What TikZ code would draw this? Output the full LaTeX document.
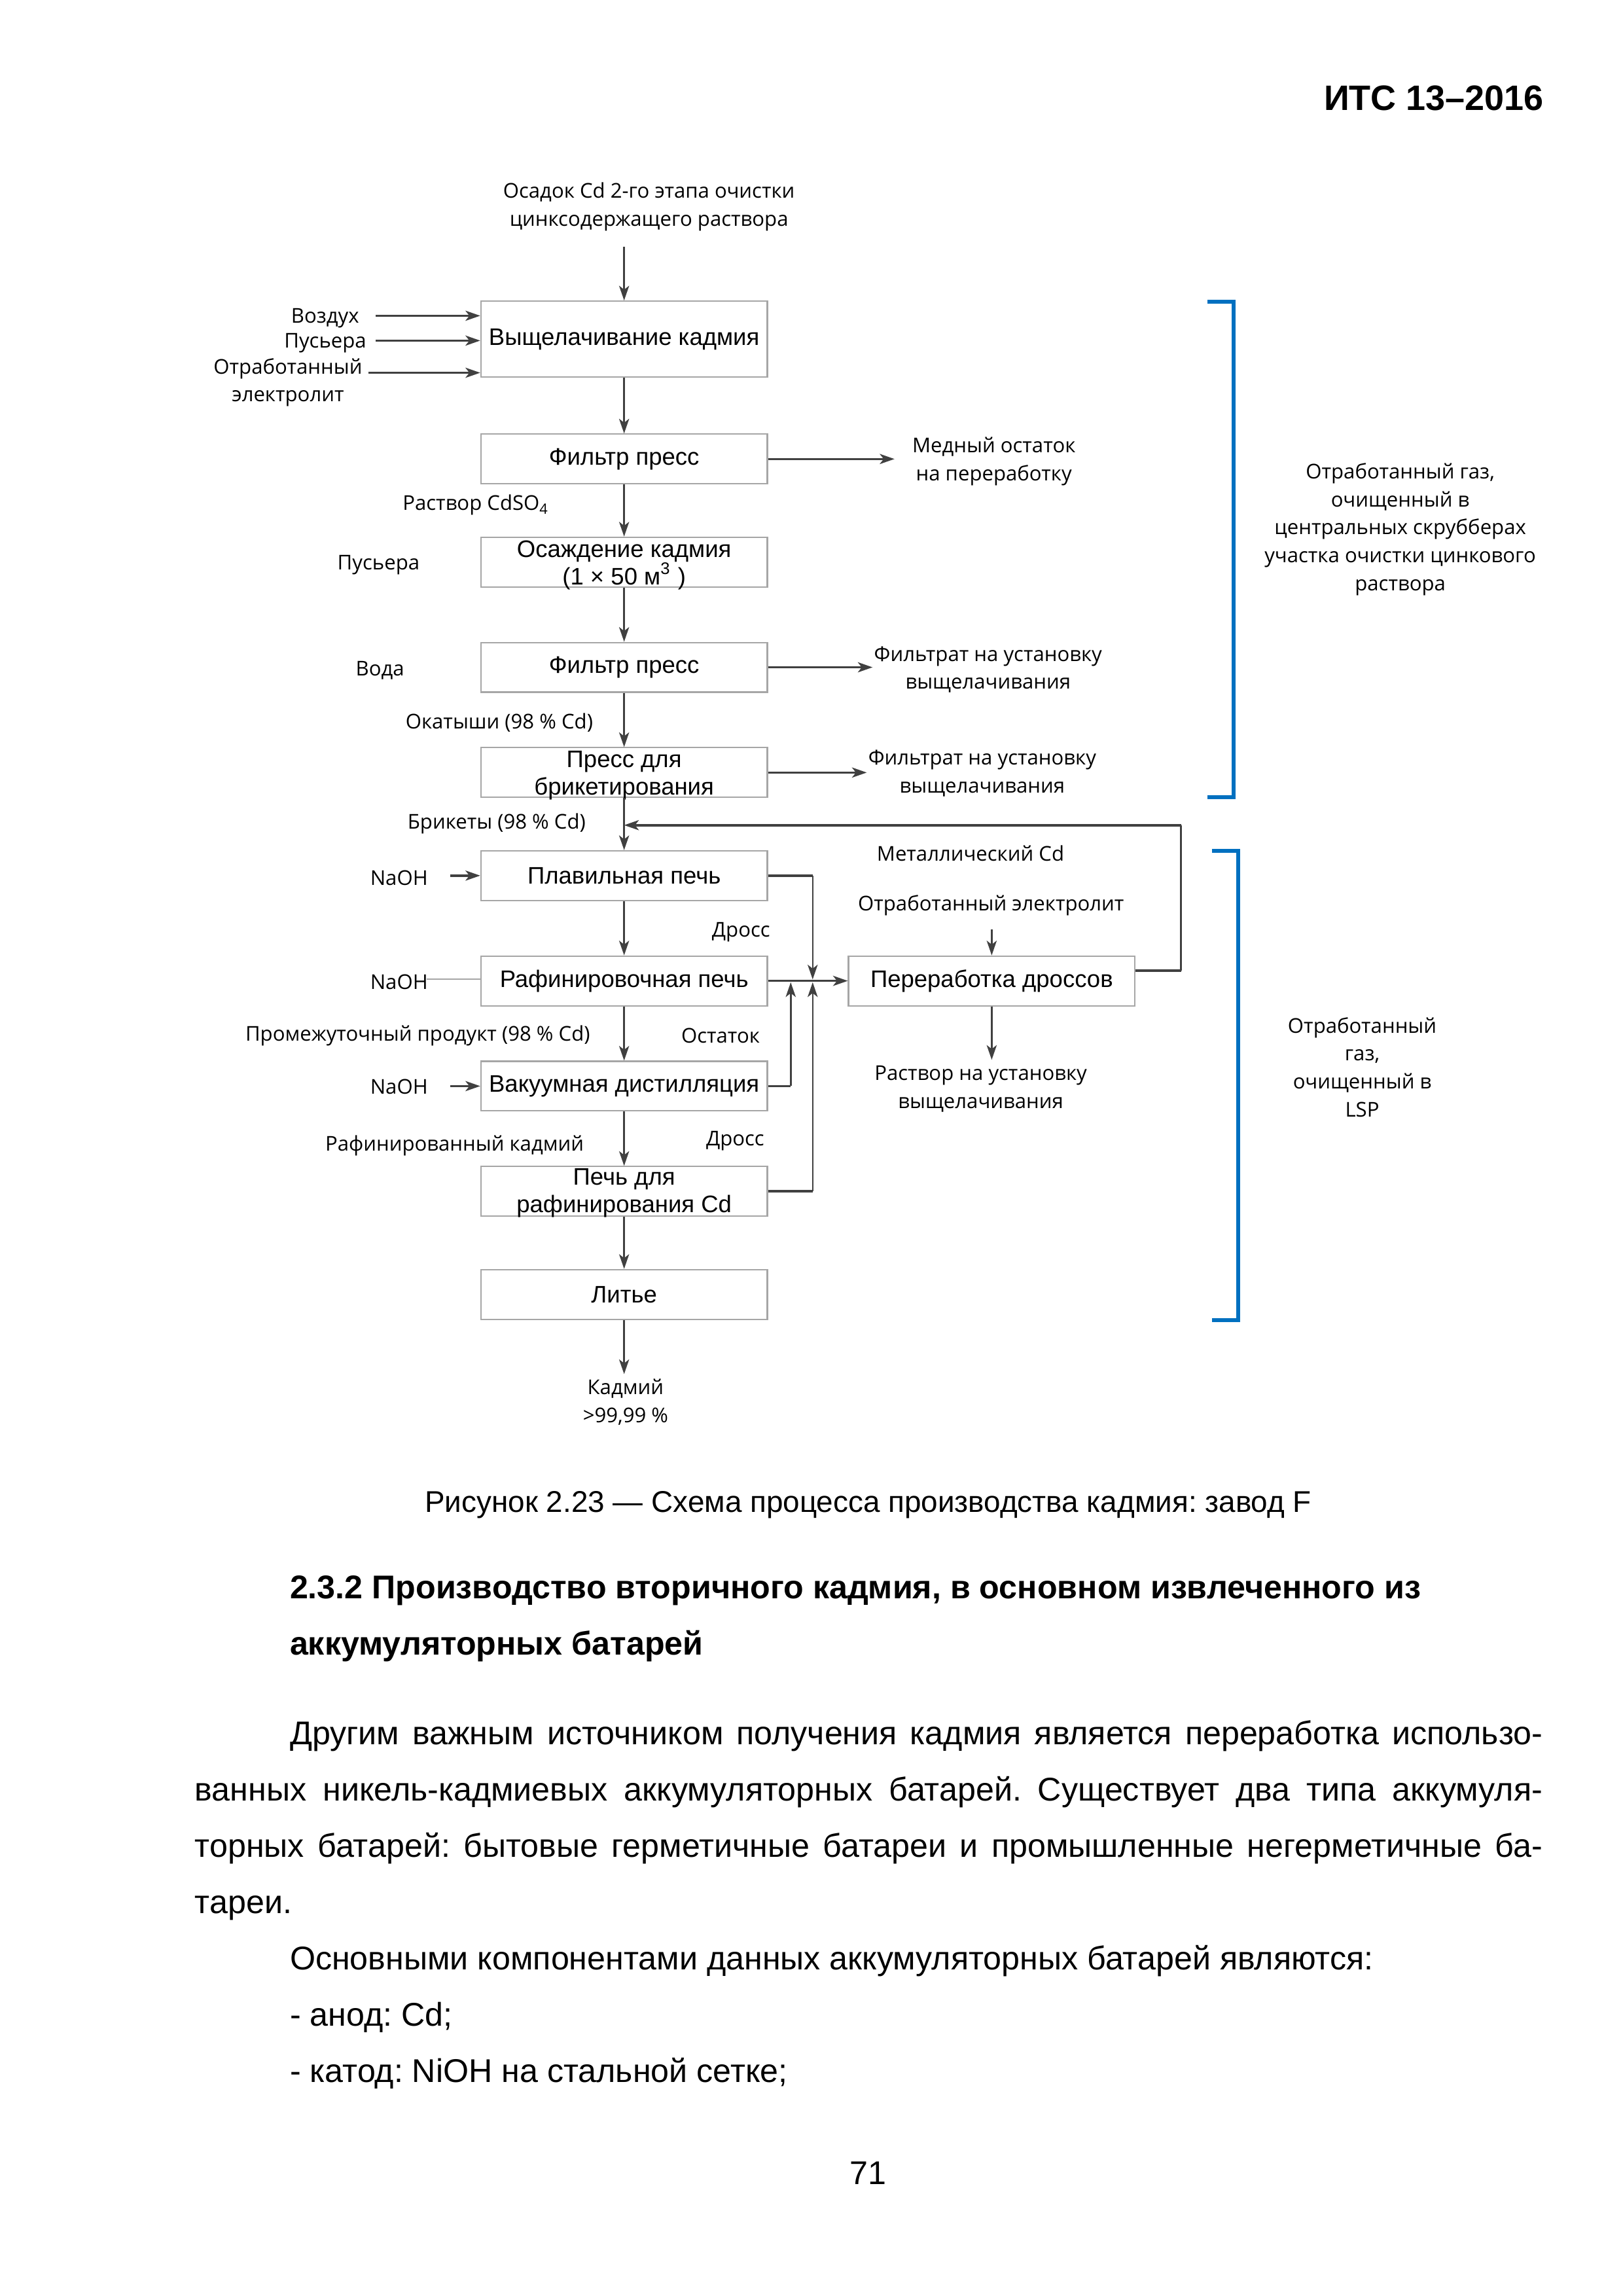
\documentclass[tikz,border=0pt]{standalone}
\usepackage{fontspec}
\setmainfont{Liberation Sans}
\newfontfamily\lbl{Open Sans}
\usetikzlibrary{arrows.meta}
\definecolor{ln}{HTML}{404040}
\definecolor{bxc}{HTML}{A6A6A6}
\definecolor{brc}{HTML}{0070C0}
\frenchspacing
\begin{document}
\begin{tikzpicture}[x=0.0189189cm,y=-0.0189189cm,
  pbox/.style={draw=bxc,line width=0.5pt,minimum width=3.708cm,minimum height=0.643cm,inner sep=0pt,align=center,font=\fontsize{8.8}{10.2}\selectfont},
  ptxt/.style={inner sep=0pt,align=center,font=\fontsize{8.8}{10.2}\selectfont},
  plab/.style={inner sep=0pt,align=center,yshift=-0.03cm,font=\lbl\fontsize{7.5}{10.3}\selectfont},
  vl/.style={draw=ln,line width=0.6pt},
  hl/.style={draw=ln,line width=0.85pt},
  arr/.style={-{Stealth[length=1.9mm,width=1.3mm,inset=0.5mm]}},
  brk/.style={draw=brc,line width=1.4pt},
  ptext/.style={inner sep=0pt,anchor=base west,font=\fontsize{12.1}{13.9}\selectfont}]
\useasboundingbox (0,0) rectangle (1110,1570.7);

% header
\node[inner sep=0pt,anchor=base east,font=\bfseries\fontsize{13}{15}\selectfont] (hdr) at (1056.5,75.4) {ИТС 13–2016};

% boxes
\node[pbox,minimum height=0.984cm] (b1) at (427,232) {Выщелачивание кадмия};
\node[pbox] (b2) at (427,314) {Фильтр пресс};
\node[pbox] (b3) at (427,384.5) {};
\node[ptxt] (t3) at (427,386.5) {Осаждение кадмия\\(1 × 50 м\textsuperscript{3} )};
\node[pbox] (b4) at (427,456.5) {Фильтр пресс};
\node[pbox] (b5) at (427,528.5) {};
\node[ptxt] (t5) at (427,530.5) {Пресс для\\брикетирования};
\node[pbox] (b6) at (427,599) {Плавильная печь};
\node[pbox] (b7) at (427,671) {Рафинировочная печь};
\node[pbox] (b8) at (427,743) {Вакуумная дистилляция};
\node[pbox] (b9) at (427,815) {};
\node[ptxt] (t9) at (427,816) {Печь для\\рафинирования Cd};
\node[pbox] (b10) at (427,885.5) {Литье};
\node[pbox] (bd) at (678.5,671) {Переработка дроссов};

% labels
\node[plab] (l0) at (444,139.8) {Осадок Cd 2-го этапа очистки\\цинксодержащего раствора};
\node[plab,anchor=east] (lv) at (246,216) {Воздух};
\node[plab,anchor=east] (lp) at (251,233) {Пусьера};
\node[plab] (le) at (197,260) {Отработанный\\электролит};
\node[plab] (lm) at (680,314) {Медный остаток\\на переработку};
\node[plab,anchor=east] (lc) at (376,344) {Раствор CdSO\textsubscript{4}};
\node[plab] (lp2) at (259,385) {Пусьера};
\node[plab] (lw) at (260,457) {Вода};
\node[plab] (lf4) at (676,456.5) {Фильтрат на установку\\выщелачивания};
\node[plab,anchor=east] (lo) at (406,493) {Окатыши (98 \% Cd)};
\node[plab] (lf5) at (672,527.5) {Фильтрат на установку\\выщелачивания};
\node[plab,anchor=east] (lb) at (401,562) {Брикеты (98 \% Cd)};
\node[plab] (lmc) at (664,582) {Металлический Cd};
\node[plab] (ln1) at (273,599) {NaOH};
\node[plab] (ld1) at (507,636) {Дросс};
\node[plab] (lel) at (678,618) {Отработанный электролит};
\node[plab] (ln2) at (273,670) {NaOH};
\node[plab,anchor=east] (lpr) at (404,707) {Промежуточный продукт (98 \% Cd)};
\node[plab] (lost) at (493,707) {Остаток};
\node[plab] (lr) at (671,743.5) {Раствор на установку\\выщелачивания};
\node[plab] (ln3) at (273,742) {NaOH};
\node[plab] (lrk) at (311,782) {Рафинированный кадмий};
\node[plab] (ld2) at (503,779) {Дросс};
\node[plab] (lk) at (428,957.5) {Кадмий\\>99,99 \%};
\node[plab] (lg1) at (958,360.5) {Отработанный газ,\\очищенный в\\центральных скрубберах\\участка очистки цинкового\\раствора};
\node[plab] (lg2) at (932,728.5) {Отработанный\\газ,\\очищенный в\\LSP};

% main flow
\coordinate (c0) at (427,169);
\draw[vl,arr] (c0) -- (b1);
\draw[vl,arr] (b1) -- (b2);
\draw[vl,arr] (b2) -- (b3);
\draw[vl,arr] (b3) -- (b4);
\draw[vl,arr] (b4) -- (b5);
\draw[vl,arr] (b5) -- (b6);
\draw[vl,arr] (b6) -- (b7);
\draw[vl,arr] (b7) -- (b8);
\draw[vl,arr] (b8) -- (b9);
\draw[vl,arr] (b9) -- (b10);
\coordinate (e3) at (427,940);
\draw[vl,arr] (b10) -- (e3);

% inputs
\coordinate (i1) at (257,216);
\coordinate (i2) at (257,233);
\coordinate (i3) at (252,255);
\draw[hl,arr] (i1) -- (i1 -| b1.west);
\draw[hl,arr] (i2) -- (i2 -| b1.west);
\draw[hl,arr] (i3) -- (i3 -| b1.west);

% outputs
\coordinate (o2) at (612,314);
\coordinate (o4) at (597,456.5);
\coordinate (o5) at (593,528.5);
\draw[hl,arr] (b2) -- (o2);
\draw[hl,arr] (b4) -- (o4);
\draw[hl,arr] (b5) -- (o5);

% NaOH
\coordinate (n1) at (308,599);
\coordinate (n2) at (292,670);
\coordinate (n3) at (308,743);
\draw[hl,arr] (n1) -- (b6);
\draw[draw=bxc,line width=0.5pt] (n2) -- (n2 -| b7.west);
\draw[hl,arr] (n3) -- (b8);

% dross handling
\coordinate (m1) at (556,599);
\coordinate (m1e) at (556,670);
\draw[hl] (b6) -- (m1);
\draw[vl,arr] (m1) -- (m1e);
\draw[hl,arr] (b7) -- (bd);
\coordinate (m2) at (541,743);
\coordinate (m2e) at (541,672);
\draw[hl] (b8) -- (m2);
\draw[vl,arr] (m2) -- (m2e);
\coordinate (m3) at (556,815);
\coordinate (m3e) at (556,672);
\draw[hl] (b9) -- (m3);
\draw[vl,arr] (m3) -- (m3e);
\coordinate (e1) at (678.5,636);
\draw[vl,arr] (e1) -- (bd);
\coordinate (e2) at (678.5,725);
\draw[vl,arr] (bd) -- (e2);

% feedback
\coordinate (f1) at (808,664);
\coordinate (f2) at (808,564.5);
\draw[hl] (f1 -| bd.east) -- (f1);
\draw[vl] (f1) -- (f2);
\draw[hl,arr] (f2) -- (f2 -| b6.north);

% brackets
\draw[brk] (826,206.5) -- (844,206.5) -- (844,545.5) -- (826,545.5);
\draw[brk] (829,582) -- (847,582) -- (847,903) -- (829,903);

% caption and text
\node[inner sep=0pt,anchor=base,font=\fontsize{11.05}{13}\selectfont] (cap) at (594,1034.5) {Рисунок 2.23 — Схема процесса производства кадмия: завод F};
\node[ptext,font=\bfseries\fontsize{12.1}{14}\selectfont] (h1) at (198,1093.5) {2.3.2 Производство вторичного кадмия, в основном извлеченного из};
\node[ptext,font=\bfseries\fontsize{12.1}{14}\selectfont] (h2) at (198,1132) {аккумуляторных батарей};
\node[ptext] (p1) at (198,1193.5) {\makebox[16.213cm][s]{Другим важным источником получения кадмия является переработка использо-}};
\node[ptext] (p2) at (133,1232) {\makebox[17.443cm][s]{ванных никель-кадмиевых аккумуляторных батарей. Существует два типа аккумуля-}};
\node[ptext] (p3) at (133,1270.5) {\makebox[17.443cm][s]{торных батарей: бытовые герметичные батареи и промышленные негерметичные ба-}};
\node[ptext] (p4) at (133,1309) {тареи.};
\node[ptext] (p5) at (198,1347.5) {Основными компонентами данных аккумуляторных батарей являются:};
\node[ptext] (p6) at (198,1386) {- анод: Cd;};
\node[ptext] (p7) at (198,1424.5) {- катод: NiOH на стальной сетке;};
\node[inner sep=0pt,anchor=base,font=\fontsize{12.1}{13.9}\selectfont] (pg) at (594,1494.5) {71};
\end{tikzpicture}
\end{document}
